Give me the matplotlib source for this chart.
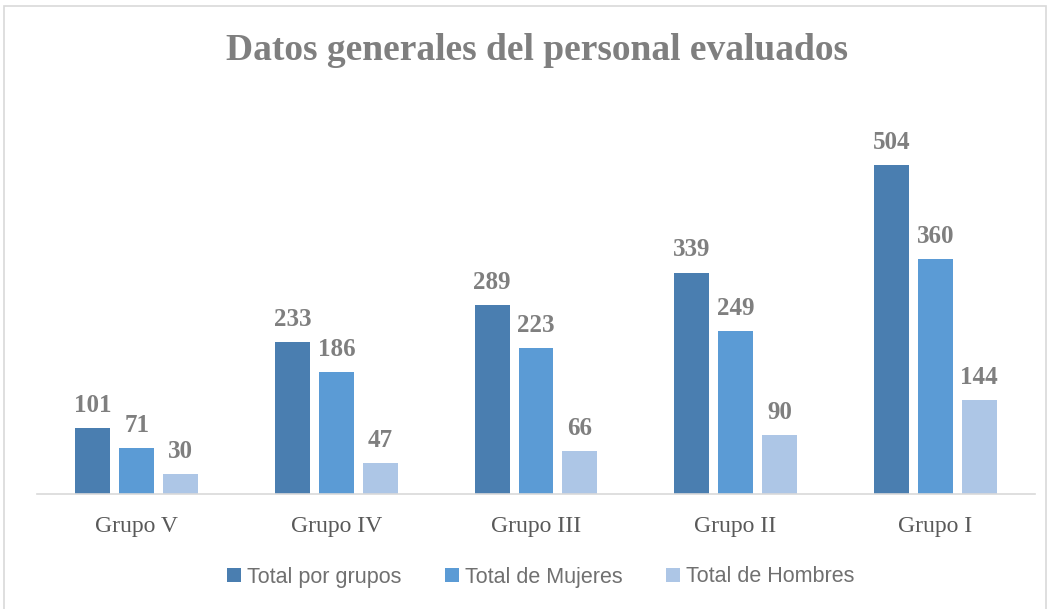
import numpy as np
import matplotlib.pyplot as plt
from matplotlib.patches import Rectangle

groups = ["Grupo V", "Grupo IV", "Grupo III", "Grupo II", "Grupo I"]
series_names = ["Total por grupos", "Total de Mujeres", "Total de Hombres"]
total_grupos = [101, 233, 289, 339, 504]
total_mujeres = [71, 186, 223, 249, 360]
total_hombres = [30, 47, 66, 90, 144]

colors = ["#4A7EB0", "#5B9BD5", "#ADC6E6"]
gray = "#7F7F7F"

fig = plt.figure(figsize=(10.5, 6.09), dpi=100)
ax = fig.add_axes([37 / 1050, 1 - 494 / 609, 998 / 1050, (494 - 102) / 609])

x = np.arange(len(groups))
width = 0.175
offsets = [-0.22, 0.0, 0.22]
for vals, name, color, off in zip(
    [total_grupos, total_mujeres, total_hombres], series_names, colors, offsets
):
    bars = ax.bar(x + off, vals, width, color=color, label=name)
    ax.bar_label(
        bars,
        padding=8,
        fontsize=18,
        fontweight="bold",
        color=gray,
        family="Liberation Serif",
    )

ax.set_xlim(-0.5, len(groups) - 0.5)
ax.set_ylim(0, 600)
ax.set_xticks(x)
ax.set_xticklabels(groups, family="Liberation Serif", fontsize=17, color="#595959")
ax.tick_params(axis="x", length=0, pad=16)
ax.set_yticks([])
for side in ["left", "right", "top"]:
    ax.spines[side].set_visible(False)
ax.spines["bottom"].set_color("#D9D9D9")
ax.spines["bottom"].set_linewidth(1.2)

fig.text(
    0.511,
    1 - 51 / 609,
    "Datos generales del personal evaluados",
    ha="center",
    va="center",
    fontsize=27,
    fontweight="bold",
    color=gray,
    family="Liberation Serif",
)

fig.legend(
    loc="center",
    bbox_to_anchor=(0.515, 1 - 577 / 609),
    ncol=3,
    frameon=False,
    labelcolor="#707070",
    handlelength=0.65,
    handleheight=0.65,
    handletextpad=0.3,
    columnspacing=2.0,
    prop={"family": "Liberation Sans", "size": 15.5},
)

fig.patches.append(
    Rectangle(
        (4 / 1050, -0.01),
        1042 / 1050,
        1 - 6 / 609 + 0.01,
        transform=fig.transFigure,
        fill=False,
        edgecolor="#D9D9D9",
        linewidth=1.2,
    )
)

fig.savefig("out.png", dpi=100)
